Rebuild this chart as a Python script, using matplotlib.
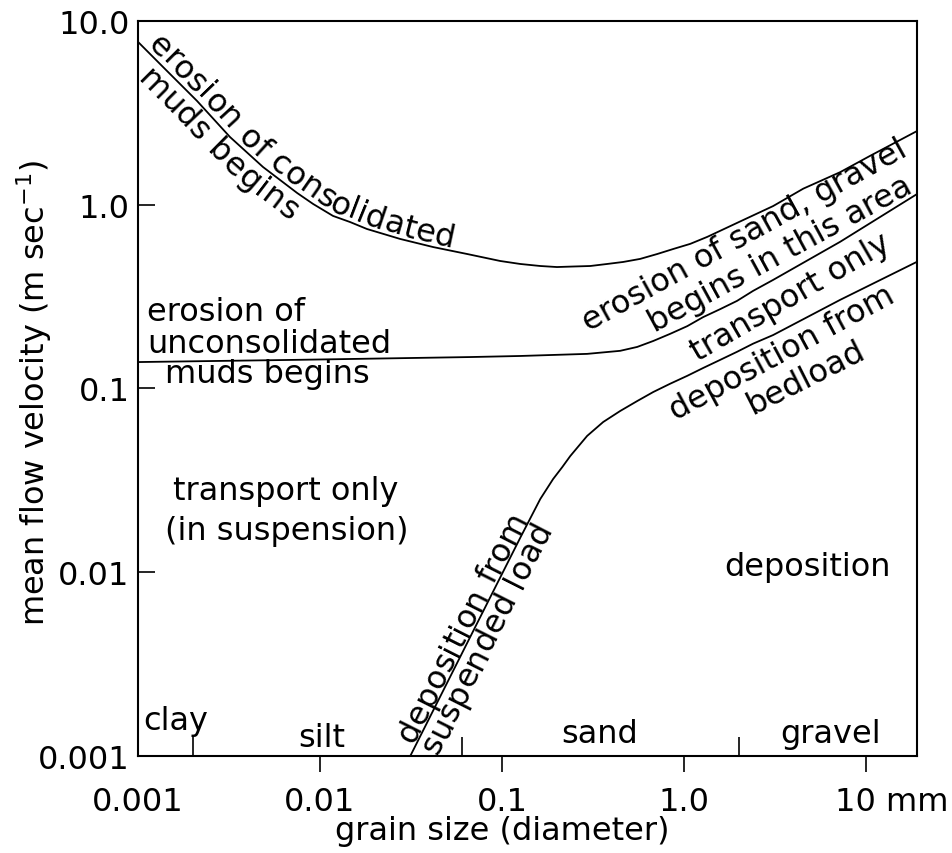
import numpy as np
import matplotlib
matplotlib.use("Agg")
import matplotlib.pyplot as plt
from matplotlib.font_manager import FontProperties
from matplotlib.transforms import ScaledTranslation

FS = 23
plt.rcParams['font.family'] = ['DejaVu Sans']

# grain size (mm) against mean flow velocity (m/s)
# upper curve: erosion of consolidated muds -> erosion of sand, gravel
upper_d = [0.001, 0.00137, 0.00211, 0.0032, 0.00486, 0.00748, 0.00916, 0.01178, 0.01462,
           0.0181, 0.0275, 0.0418, 0.0643, 0.0976, 0.1256, 0.162, 0.200, 0.245, 0.305,
           0.378, 0.462, 0.573, 0.711, 0.871, 1.08, 1.34, 2.03, 3.08, 4.51, 7.19, 10.5, 19.0]
upper_v = [7.67, 5.61, 3.66, 2.33, 1.60, 1.156, 1.007, 0.867, 0.803,
           0.736, 0.650, 0.587, 0.538, 0.493, 0.475, 0.463, 0.457, 0.460, 0.463,
           0.475, 0.487, 0.506, 0.538, 0.573, 0.611, 0.667, 0.809, 0.981, 1.22, 1.50, 1.84, 2.51]

# middle curve: erosion of unconsolidated muds begins
mid_d = [0.001, 0.00776, 0.0667, 0.1256, 0.293, 0.445, 0.552, 0.676, 0.838, 1.04,
         1.27, 1.58, 1.95, 2.39, 3.08, 7.19, 19.0]
mid_v = [0.139, 0.143, 0.148, 0.150, 0.154, 0.160, 0.168, 0.181, 0.198, 0.218,
         0.244, 0.270, 0.299, 0.339, 0.389, 0.627, 1.14]

# lower curve: deposition
dep_d = [0.0313, 0.0667, 0.1256, 0.162, 0.1905, 0.214, 0.2366, 0.293, 0.359, 0.445, 0.552,
         0.676, 0.838, 1.04, 1.27, 1.58, 1.95, 2.39, 3.08, 7.19, 19.0]
dep_v = [0.001, 0.00443, 0.01535, 0.0250, 0.0321, 0.0373, 0.0428, 0.0551, 0.0656, 0.0753,
         0.0853, 0.0955, 0.106, 0.117, 0.129, 0.143, 0.158, 0.175, 0.195, 0.303, 0.488]

x_ticks = [0.001, 0.01, 0.1, 1.0, 10]
x_labels = ["0.001", "0.01", "0.1", "1.0", "10 mm"]
y_ticks = [0.001, 0.01, 0.1, 1.0, 10]
y_labels = ["0.001", "0.01", "0.1", "1.0", "10.0"]

class_bounds = [0.002, 0.06, 2.0]
class_names = ["clay", "silt", "sand", "gravel"]
class_x = [0.00107, 0.01026, 0.345, 6.34]
class_y = [0.00140, 0.00113, 0.00119, 0.00119]


fig = plt.figure(figsize=(9.52, 8.54), dpi=100)
ax = fig.add_axes([138 / 952, 1 - 757 / 854, 779 / 952, 735.3 / 854])
ax.set_xscale("log")
ax.set_yscale("log")
ax.set_xlim(0.001, 19.0)
ax.set_ylim(0.001, 10)

for sp in ax.spines.values():
    sp.set_linewidth(1.5)

ax.plot(upper_d, upper_v, color="black", lw=1.3)
ax.plot(mid_d, mid_v, color="black", lw=1.3)
ax.plot(dep_d, dep_v, color="black", lw=1.3)

# ticks
ax.set_xticks(x_ticks)
ax.set_xticklabels(x_labels, fontsize=FS)
ax.set_xticks(class_bounds, minor=True)
ax.set_yticks(y_ticks)
ax.set_yticklabels(y_labels, fontsize=FS)
ax.yaxis.set_minor_locator(matplotlib.ticker.NullLocator())
ax.xaxis.set_minor_formatter(matplotlib.ticker.NullFormatter())
ax.tick_params(axis="x", which="major", direction="out", length=11.5, width=1.2, pad=10)
ax.tick_params(axis="x", which="minor", direction="in", length=14, width=1.2)
ax.tick_params(axis="y", which="major", direction="in", length=12, width=1.2, pad=6)
ax.xaxis.get_major_ticks()[0].tick1line.set_visible(False)
lbl = ax.get_xticklabels()[-1]
lbl.set_transform(lbl.get_transform() + ScaledTranslation(0.26, 0, fig.dpi_scale_trans))

ax.set_xlabel("grain size (diameter)", fontsize=FS)
ax.xaxis.set_label_coords(0.467, -0.080)
ax.set_ylabel("mean flow velocity (m sec$^{-1}$)", fontsize=FS)
ax.yaxis.set_label_coords(-0.108, 0.495)

# grain size classes
for name, x, y in zip(class_names, class_x, class_y):
    ax.text(x, y, name, fontsize=FS, ha="left" if name == "clay" else "center", va="baseline")

# region labels
ax.text(0.0065, 0.0277, "transport only", fontsize=FS, ha="center", va="center")
ax.text(0.0066, 0.0168, "(in suspension)", fontsize=FS, ha="center", va="center")
ax.text(4.74, 0.01067, "deposition", fontsize=FS, ha="center", va="center")
ax.text(0.00112, 0.234, "erosion of", fontsize=FS, ha="left", va="baseline")
ax.text(0.00112, 0.158, "unconsolidated", fontsize=FS, ha="left", va="baseline")
ax.text(0.00141, 0.108, "muds begins", fontsize=FS, ha="left", va="baseline")

# straight labels along the right-hand curves
for txt, x, y, rot in [("erosion of sand, gravel", 2.25, 0.622, 28.9),
                       ("begins in this area", 3.54, 0.493, 28.5),
                       ("transport only", 4.05, 0.288, 30.1),
                       ("deposition from", 3.63, 0.143, 28.4),
                       ("bedload", 4.90, 0.104, 26.8)]:
    ax.text(x, y, txt, fontsize=FS, rotation=rot, rotation_mode="anchor",
            ha="center", va="baseline")


def text_along(xs, ys, txt, start, offset, spacing=0.0):
    # place each letter on the curve, turned with it
    r = fig.canvas.get_renderer()
    prop = FontProperties(family="DejaVu Sans", size=FS)
    pts = ax.transData.transform(np.column_stack([xs, ys]))
    s = np.concatenate([[0], np.cumsum(np.hypot(*np.diff(pts, axis=0).T))])
    at = lambda a: np.array([np.interp(a, s, pts[:, 0]), np.interp(a, s, pts[:, 1])])
    inv = ax.transData.inverted()
    for i, ch in enumerate(txt):
        if ch == " ":
            continue
        right = r.get_text_width_height_descent(txt[:i + 1], prop, ismath=False)[0]
        w = r.get_text_width_height_descent(ch, prop, ismath=False)[0]
        c = start + right - w / 2 + i * spacing
        d = at(c + w / 2 + 4) - at(c - w / 2 - 4)
        ang = np.arctan2(d[1], d[0])
        pos = at(c) + offset * np.array([-np.sin(ang), np.cos(ang)])
        x, y = inv.transform(pos)
        ax.text(x, y, ch, fontproperties=prop, rotation=np.degrees(ang),
                rotation_mode="anchor", ha="center", va="baseline")


text_along(upper_d, upper_v, "erosion of consolidated", 8, 4, spacing=0.3)
text_along(upper_d, upper_v, "muds begins", 25, -27, spacing=0.0)
text_along(dep_d, dep_v, "deposition from", 12, 3, spacing=0.2)
text_along(dep_d, dep_v, "suspended load", 13, -24, spacing=0.2)

fig.savefig("out.png", dpi=100)
